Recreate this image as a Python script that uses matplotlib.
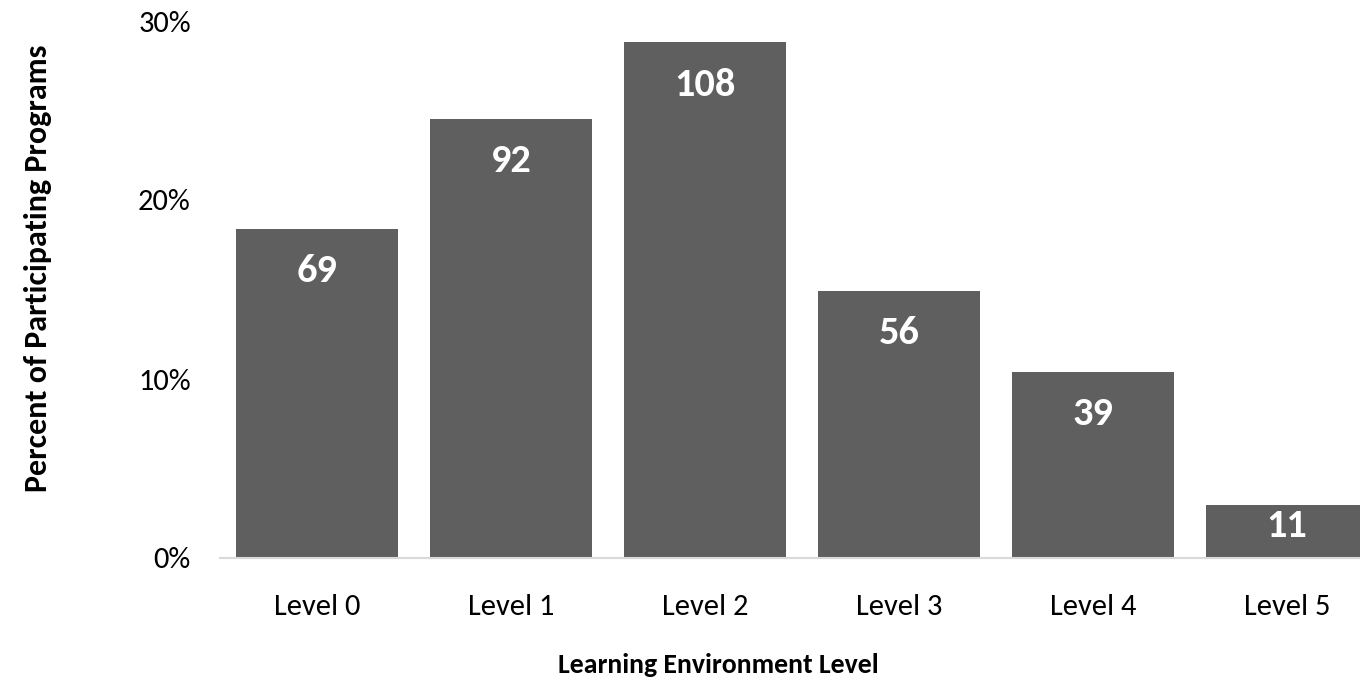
import matplotlib
matplotlib.use('Agg')
import matplotlib.pyplot as plt
from matplotlib.ticker import PercentFormatter

# Dados
levels = ['Level 0', 'Level 1', 'Level 2', 'Level 3', 'Level 4', 'Level 5']
counts = [69, 92, 108, 56, 39, 11]
total = sum(counts)
percents = [c / total * 100 for c in counts]

plt.rcParams['font.family'] = ['Carlito', 'Lato', 'DejaVu Sans']

fig = plt.figure(figsize=(13.6, 6.9), dpi=100)
# o eixo passa da borda direita, como no original (barra Level 5 cortada)
ax = fig.add_axes([220 / 1360, 132 / 690, 1164 / 1360, 537 / 690])

x = range(len(levels))
bars = ax.bar(x, percents, width=0.83, color='#5f5f5f')

# rótulos "inside end"; se a barra for baixa demais, ficam perto do meio
for b, c in zip(bars, counts):
    h = b.get_height()
    y_lab = max(h - 2.35, h * 0.6)
    ax.text(b.get_x() + b.get_width() / 2, y_lab, str(c),
            ha='center', va='center', color='white', fontsize=29, fontweight='bold')

ax.set_xlim(-0.5, len(levels) - 0.5)
ax.set_ylim(0, 30)
ax.set_yticks([0, 10, 20, 30])
ax.yaxis.set_major_formatter(PercentFormatter(decimals=0))
ax.set_xticks(list(x))
ax.set_xticklabels(levels)
ax.tick_params(axis='both', length=0, labelsize=22, colors='black')
ax.tick_params(axis='x', pad=26)
ax.tick_params(axis='y', pad=21)

for s in ['top', 'right', 'left']:
    ax.spines[s].set_visible(False)
ax.spines['bottom'].set_color('#d9d9d9')
ax.spines['bottom'].set_linewidth(1.5)

fig.text(38 / 1360, 1 - 268 / 690, 'Percent of Participating Programs', rotation=90,
         ha='center', va='center', fontsize=23, fontweight='bold')
fig.text(718 / 1360, 1 - 665 / 690, 'Learning Environment Level',
         ha='center', va='center', fontsize=20, fontweight='bold')

fig.savefig('out.png', dpi=100)
